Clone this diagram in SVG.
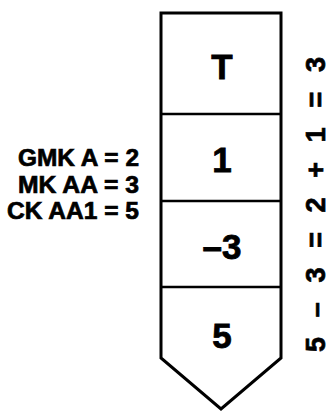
<svg xmlns="http://www.w3.org/2000/svg" width="333" height="411" viewBox="0 0 333 411">
<style>
.t{font-family:"Liberation Sans",Arial,sans-serif;font-weight:bold;fill:#000;stroke:#000}
.num{font-size:35px;text-anchor:middle;stroke-width:0.8}
.lab{font-size:23.5px;text-anchor:end;stroke-width:0.7}
.eq{font-size:27px;stroke-width:0.7}
.ln{fill:none;stroke:#000;stroke-width:3;stroke-linejoin:miter}
.dv{stroke:#000;stroke-width:2.5}
</style>
<rect width="333" height="411" fill="#fff"/>
<g id="column">
<path class="ln" d="M161,13 H281 V358 L221,409 L161,358 Z"/>
<line class="dv" x1="161" y1="114" x2="281" y2="114"/>
<line class="dv" x1="161" y1="201" x2="281" y2="201"/>
<line class="dv" x1="161" y1="287" x2="281" y2="287"/>
</g>
<g id="cell-T"><text class="t num" x="222" y="79">T</text></g>
<g id="cell-1"><text class="t num" x="222" y="172">1</text></g>
<g id="cell-m3"><text class="t num" x="222" y="259">–3</text></g>
<g id="cell-5"><text class="t num" x="222" y="348">5</text></g>
<g id="labels">
<text class="t lab" x="139" y="166" textLength="121" lengthAdjust="spacingAndGlyphs">GMK A = 2</text>
<text class="t lab" x="139" y="192.5" textLength="121" lengthAdjust="spacingAndGlyphs">MK AA = 3</text>
<text class="t lab" x="139" y="219" textLength="132" lengthAdjust="spacingAndGlyphs">CK AA1 = 5</text>
</g>
<g id="equation">
<text class="t eq" transform="translate(325,352) rotate(-90)" x="0" y="0" textLength="295" lengthAdjust="spacing">5 – 3 = 2 + 1 = 3</text>
</g>
</svg>
